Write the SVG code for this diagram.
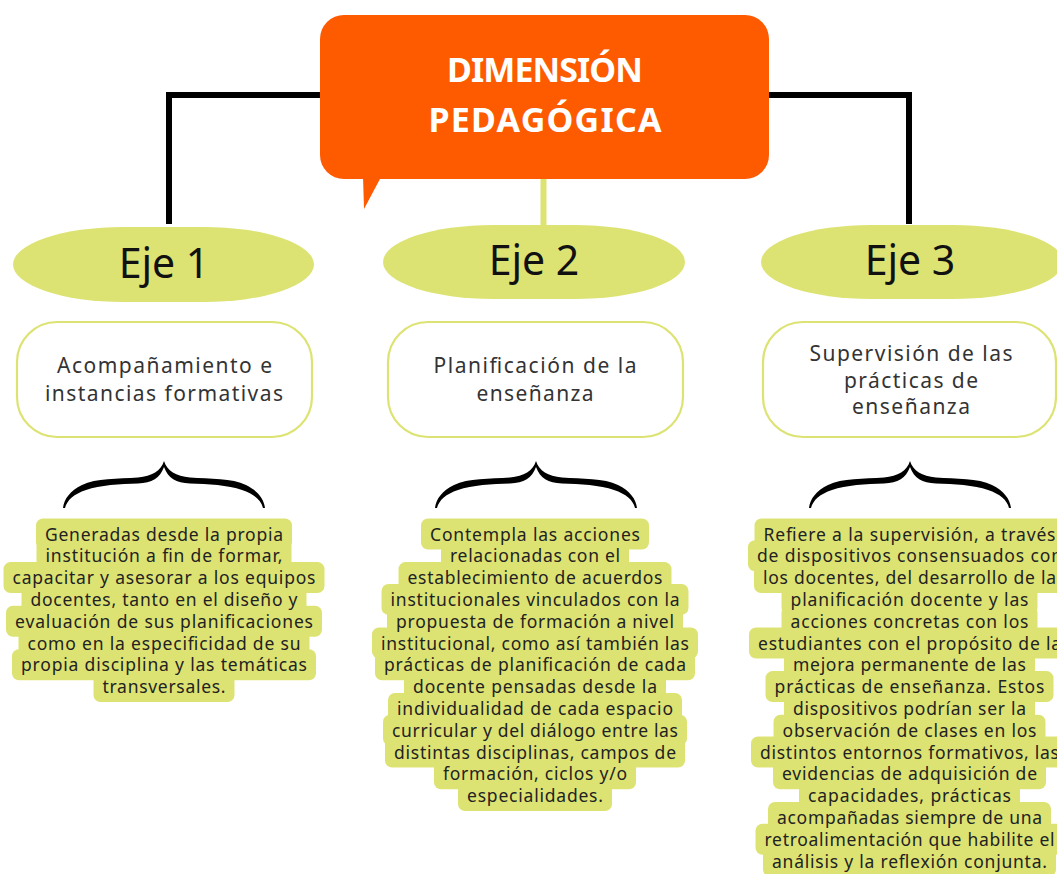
<svg xmlns="http://www.w3.org/2000/svg" xmlns:xlink="http://www.w3.org/1999/xlink" width="1057" height="874" viewBox="0 0 1057 874">
<style>
.hl{fill:#dde373}
.bt{font-family:"Noto Sans","Open Sans",sans-serif;font-size:17.5px;fill:#222;text-anchor:middle}
.eje{fill:#dde373}
.ejet{font-family:"Noto Sans","Open Sans",sans-serif;font-size:41px;fill:#111;text-anchor:middle}
.box{fill:#fff;stroke:#dde373;stroke-width:2.2}
.boxt{font-family:"Noto Sans","Open Sans",sans-serif;font-size:21px;fill:#333;text-anchor:middle}
.blk{stroke:#000;stroke-width:6;fill:none}
.brace{fill:#000}
.title{font-family:"Noto Sans","Open Sans",sans-serif;font-size:34px;font-weight:700;fill:#fff;text-anchor:middle}
</style>
<defs>
<path id="half" d="M0,0 C-3,10 -12,15 -26,16.5 C-46,18 -68,17 -82,24 C-94,30 -100,38 -101,47 L-99,47 C-97,39 -90,33 -78,29 C-64,24 -44,23 -26,22.5 C-12,22 -4,17 0,6 Z"/>
<g id="brace"><use xlink:href="#half"/><use xlink:href="#half" transform="scale(-1,1)"/></g>
</defs>
<rect width="1057" height="874" fill="#fff"/>
<g id="connectors">
<polyline class="blk" points="169,224 169,95 325,95"/>
<polyline class="blk" points="765,95 909,95 909,224"/>
<line x1="543.5" y1="175" x2="543.5" y2="227" stroke="#dde373" stroke-width="6"/>
<use xlink:href="#brace" class="brace" transform="translate(164,461)"/>
<use xlink:href="#brace" class="brace" transform="translate(536,461)"/>
<use xlink:href="#brace" class="brace" transform="translate(910,461)"/>
</g>
<g id="header">
<rect x="320" y="15" width="449" height="164" rx="24" fill="#fe5a00"/>
<polygon points="363,177 381,177 364,209" fill="#fe5a00"/>
<text class="title" x="545" y="82" textLength="196">DIMENSIÓN</text>
<text class="title" x="545" y="132" textLength="233">PEDAGÓGICA</text>
</g>
<g id="eje1">
<rect class="eje" x="13" y="227" width="301" height="75" rx="110" ry="37.5"/>
<text class="ejet" x="164" y="278">Eje 1</text>
</g>
<g id="eje2">
<rect class="eje" x="383" y="225" width="302" height="74" rx="110" ry="37"/>
<text class="ejet" x="534" y="275">Eje 2</text>
</g>
<g id="eje3">
<rect class="eje" x="761" y="225" width="302" height="74" rx="110" ry="37"/>
<text class="ejet" x="910" y="275">Eje 3</text>
</g>
<g id="box1">
<rect class="box" x="17" y="322" width="295" height="115" rx="40"/>
<text class="boxt" x="164.5" y="373" textLength="215">Acompañamiento e</text>
<text class="boxt" x="164" y="401" textLength="238">instancias formativas</text>
</g>
<g id="box2">
<rect class="box" x="388" y="322" width="295" height="115" rx="40"/>
<text class="boxt" x="535" y="373" textLength="203">Planificación de la</text>
<text class="boxt" x="535" y="401" textLength="117">enseñanza</text>
</g>
<g id="box3">
<rect class="box" x="763" y="322" width="293" height="115" rx="40"/>
<text class="boxt" x="911" y="361" textLength="203">Supervisión de las</text>
<text class="boxt" x="911" y="388" textLength="134">prácticas de</text>
<text class="boxt" x="911" y="414" textLength="118">enseñanza</text>
</g>
<g id="text1">
<rect class="hl" x="36" y="518.5" width="256" height="31" rx="7"/>
<rect class="hl" x="36.5" y="540.3" width="255" height="31" rx="7"/>
<rect class="hl" x="3.5" y="562.1" width="321" height="31" rx="7"/>
<rect class="hl" x="21.5" y="583.9" width="285" height="31" rx="7"/>
<rect class="hl" x="6" y="605.7" width="316" height="31" rx="7"/>
<rect class="hl" x="18.5" y="627.5" width="291" height="31" rx="7"/>
<rect class="hl" x="12" y="649.3" width="304" height="31" rx="7"/>
<rect class="hl" x="93.5" y="671.1" width="141" height="31" rx="7"/>
<text class="bt" x="164" y="540.5" textLength="238">Generadas desde la propia</text>
<text class="bt" x="164" y="562.3" textLength="237">institución a fin de formar,</text>
<text class="bt" x="164" y="584.1" textLength="303">capacitar y asesorar a los equipos</text>
<text class="bt" x="164" y="605.9" textLength="267">docentes, tanto en el diseño y</text>
<text class="bt" x="164" y="627.7" textLength="298">evaluación de sus planificaciones</text>
<text class="bt" x="164" y="649.5" textLength="273">como en la especificidad de su</text>
<text class="bt" x="164" y="671.3" textLength="286">propia disciplina y las temáticas</text>
<text class="bt" x="164" y="693.1" textLength="123">transversales.</text>
</g>
<g id="text2">
<rect class="hl" x="421" y="518.5" width="228" height="31" rx="7"/>
<rect class="hl" x="441" y="540.3" width="188" height="31" rx="7"/>
<rect class="hl" x="398.5" y="562.1" width="273" height="31" rx="7"/>
<rect class="hl" x="381.5" y="583.9" width="307" height="31" rx="7"/>
<rect class="hl" x="387" y="605.7" width="296" height="31" rx="7"/>
<rect class="hl" x="372" y="627.5" width="326" height="31" rx="7"/>
<rect class="hl" x="375" y="649.3" width="320" height="31" rx="7"/>
<rect class="hl" x="404" y="671.1" width="262" height="31" rx="7"/>
<rect class="hl" x="388" y="692.9" width="294" height="31" rx="7"/>
<rect class="hl" x="383" y="714.7" width="304" height="31" rx="7"/>
<rect class="hl" x="385" y="736.5" width="300" height="31" rx="7"/>
<rect class="hl" x="434" y="758.3" width="202" height="31" rx="7"/>
<rect class="hl" x="458" y="780.1" width="154" height="31" rx="7"/>
<text class="bt" x="535" y="540.5" textLength="210">Contempla las acciones</text>
<text class="bt" x="535" y="562.3" textLength="170">relacionadas con el</text>
<text class="bt" x="535" y="584.1" textLength="255">establecimiento de acuerdos</text>
<text class="bt" x="535" y="605.9" textLength="289">institucionales vinculados con la</text>
<text class="bt" x="535" y="627.7" textLength="278">propuesta de formación a nivel</text>
<text class="bt" x="535" y="649.5" textLength="308">institucional, como así también las</text>
<text class="bt" x="535" y="671.3" textLength="302">prácticas de planificación de cada</text>
<text class="bt" x="535" y="693.1" textLength="244">docente pensadas desde la</text>
<text class="bt" x="535" y="714.9" textLength="276">individualidad de cada espacio</text>
<text class="bt" x="535" y="736.7" textLength="286">curricular y del diálogo entre las</text>
<text class="bt" x="535" y="758.5" textLength="282">distintas disciplinas, campos de</text>
<text class="bt" x="535" y="780.3" textLength="184">formación, ciclos y/o</text>
<text class="bt" x="535" y="802.1" textLength="136">especialidades.</text>
</g>
<g id="text3">
<rect class="hl" x="754.5" y="518.5" width="310" height="31" rx="7"/>
<rect class="hl" x="748" y="540.3" width="323" height="31" rx="7"/>
<rect class="hl" x="754" y="562.1" width="311" height="31" rx="7"/>
<rect class="hl" x="781.5" y="583.9" width="256" height="31" rx="7"/>
<rect class="hl" x="781.5" y="605.7" width="256" height="31" rx="7"/>
<rect class="hl" x="749" y="627.5" width="321" height="31" rx="7"/>
<rect class="hl" x="784" y="649.3" width="251" height="31" rx="7"/>
<rect class="hl" x="765.5" y="671.1" width="288" height="31" rx="7"/>
<rect class="hl" x="784" y="692.9" width="251" height="31" rx="7"/>
<rect class="hl" x="773.5" y="714.7" width="272" height="31" rx="7"/>
<rect class="hl" x="751" y="736.5" width="317" height="31" rx="7"/>
<rect class="hl" x="773" y="758.3" width="273" height="31" rx="7"/>
<rect class="hl" x="799" y="780.1" width="221" height="31" rx="7"/>
<rect class="hl" x="768" y="801.9" width="283" height="31" rx="7"/>
<rect class="hl" x="755.5" y="823.7" width="308" height="31" rx="7"/>
<rect class="hl" x="763" y="845.5" width="293" height="31" rx="7"/>
<text class="bt" x="909.5" y="540.5" textLength="292">Refiere a la supervisión, a través</text>
<text class="bt" x="909.5" y="562.3" textLength="305">de dispositivos consensuados con</text>
<text class="bt" x="909.5" y="584.1" textLength="293">los docentes, del desarrollo de la</text>
<text class="bt" x="909.5" y="605.9" textLength="238">planificación docente y las</text>
<text class="bt" x="909.5" y="627.7" textLength="238">acciones concretas con los</text>
<text class="bt" x="909.5" y="649.5" textLength="303">estudiantes con el propósito de la</text>
<text class="bt" x="909.5" y="671.3" textLength="233">mejora permanente de las</text>
<text class="bt" x="909.5" y="693.1" textLength="270">prácticas de enseñanza. Estos</text>
<text class="bt" x="909.5" y="714.9" textLength="233">dispositivos podrían ser la</text>
<text class="bt" x="909.5" y="736.7" textLength="254">observación de clases en los</text>
<text class="bt" x="909.5" y="758.5" textLength="299">distintos entornos formativos, las</text>
<text class="bt" x="909.5" y="780.3" textLength="255">evidencias de adquisición de</text>
<text class="bt" x="909.5" y="802.1" textLength="203">capacidades, prácticas</text>
<text class="bt" x="909.5" y="823.9" textLength="265">acompañadas siempre de una</text>
<text class="bt" x="909.5" y="845.7" textLength="290">retroalimentación que habilite el</text>
<text class="bt" x="909.5" y="867.5" textLength="275">análisis y la reflexión conjunta.</text>
</g>
</svg>
